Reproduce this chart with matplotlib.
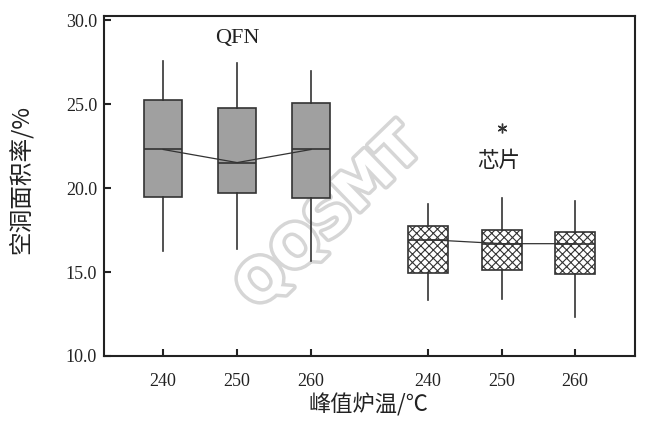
import matplotlib
matplotlib.use('Agg')
import matplotlib.pyplot as plt
import matplotlib.patheffects as pe

plt.rcParams['font.family'] = ['Liberation Serif', 'Noto Sans CJK SC']
plt.rcParams['hatch.linewidth'] = 0.8

# data
groups = ['QFN', '芯片']
temps = ['240', '250', '260', '240', '250', '260']
positions = [1, 2, 3, 4.58, 5.58, 6.57]
whislo = [16.27, 16.39, 15.67, 13.34, 13.40, 12.33]
q1 = [19.49, 19.73, 19.43, 14.96, 15.13, 14.90]
med = [22.30, 21.52, 22.30, 16.93, 16.69, 16.69]
q3 = [25.22, 24.80, 25.04, 17.76, 17.52, 17.40]
whishi = [27.55, 27.43, 26.96, 19.07, 19.43, 19.25]
fliers = [[], [], [], [], [23.55], []]

stats = []
for i in range(6):
    stats.append(dict(whislo=whislo[i], q1=q1[i], med=med[i], q3=q3[i],
                      whishi=whishi[i], fliers=fliers[i]))

fig = plt.figure(figsize=(6.47, 4.26), dpi=100)
ax = fig.add_axes([104/647, 1-356/426, 531/647, 340/426])

edge = '#333333'
bp = ax.bxp(stats, positions=positions, widths=[0.52]*3 + [0.55]*3,
            patch_artist=True, showcaps=False,
            boxprops=dict(edgecolor=edge, linewidth=1.2),
            whiskerprops=dict(color=edge, linewidth=1.2),
            medianprops=dict(color=edge, linewidth=1.2),
            flierprops=dict(marker=(6, 2, 0), markersize=7, markeredgewidth=1.0,
                            markerfacecolor=edge, markeredgecolor=edge))
for i, b in enumerate(bp['boxes']):
    if i < 3:
        b.set_facecolor('#a0a0a0')
    else:
        b.set_facecolor('white')
        b.set_hatch('xxxx')

# lines joining the medians in each group
ax.plot(positions[:3], med[:3], color=edge, lw=0.9, zorder=3)
ax.plot(positions[3:], med[3:], color=edge, lw=0.9, zorder=3)

ax.text(2.0, 28.9, groups[0], ha='center', va='center', fontsize=16, color='#222222')
ax.text(5.54, 21.6, groups[1], ha='center', va='center', fontsize=15.5, color='#222222',
        family=['Noto Sans CJK SC'])

# watermark
ax.text(3.26, 18.2, 'QQSMT', rotation=44, ha='center', va='center', fontsize=41,
        family='DejaVu Sans', fontweight='bold', color='white', zorder=0.5,
        path_effects=[pe.withStroke(linewidth=5, foreground='#d6d6d6')])

ax.set_xlim(0.2, 7.38)
ax.set_ylim(10, 30.25)
ax.set_xticks(positions)
ax.set_xticklabels(temps)
ax.set_yticks([10, 15, 20, 25, 30])
ax.set_yticklabels(['10.0', '15.0', '20.0', '25.0', '30.0'])
ax.tick_params(axis='both', direction='in', length=5, width=1.5, colors='#222222',
               labelsize=13)
ax.tick_params(axis='x', pad=12)
ax.tick_params(axis='y', pad=5)
for s in ax.spines.values():
    s.set_linewidth(1.5)
    s.set_color('#222222')

fig.text(368/647, 1-405/426, '峰值炉温/℃', ha='center', va='center', fontsize=16,
         color='#222222', family=['Noto Sans CJK SC'])
fig.text(20/647, 1-180/426, '空洞面积率/%', ha='center', va='center', fontsize=17,
         rotation=90, color='#222222', family=['Noto Sans CJK SC'])

fig.savefig('out.png', dpi=100)
